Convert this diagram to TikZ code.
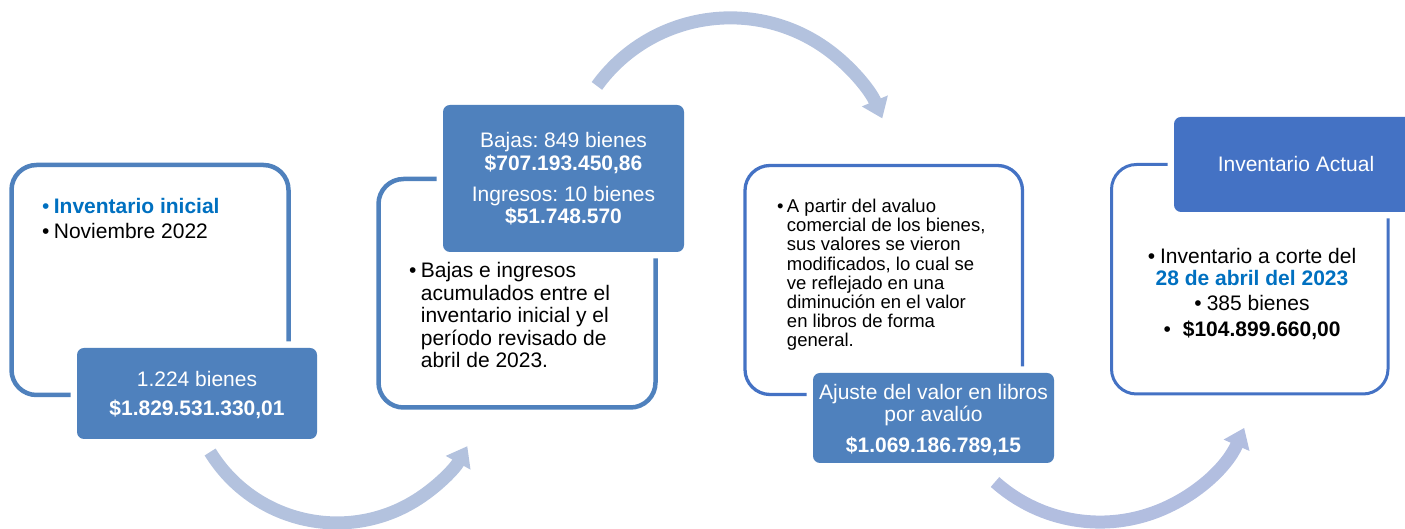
\documentclass[tikz,border=0pt]{standalone}
\usepackage{fontspec}
\setmainfont{Liberation Sans}
\frenchspacing
\usetikzlibrary{arrows.meta}
\definecolor{boxblue}{HTML}{4F81BD}
\definecolor{boxbluetwo}{HTML}{4472C4}
\definecolor{arrowblue}{HTML}{B3C2DE}
\definecolor{arrowbluetwo}{HTML}{B2BEE0}
\definecolor{textblue}{HTML}{0070C0}
\begin{document}
\begin{tikzpicture}[x=1pt,y=1pt,
  outbox/.style={draw=boxblue, line width=4.5pt, rounded corners=25pt, inner sep=0pt, outer sep=0pt, rectangle},
  fillbox/.style={fill=boxblue, rounded corners=7pt, inner sep=0pt, outer sep=0pt, rectangle, preaction={draw=white, line width=13pt}},
  txt/.style={inner sep=0pt, outer sep=0pt, font=\fontsize{21}{22.5}\selectfont},
  wtxt/.style={txt, text=white, anchor=base},
  flow/.style={draw=arrowblue, line width=13pt, -{Triangle[width=27pt,length=19pt]}},
]
\useasboundingbox (0,0) rectangle (1405,529);

% outline boxes
\node[outbox, minimum width=277pt, minimum height=230pt] (o1) at (150,249) {};
\node[outbox, minimum width=277pt, minimum height=228.5pt] (o2) at (517,235.75) {};
\node[outbox, draw=boxbluetwo, line width=3.3pt, minimum width=277.5pt, minimum height=229pt] (o3) at (883.75,249) {};
\node[outbox, draw=boxbluetwo, line width=3pt, minimum width=276.5pt, minimum height=229.5pt] (o4) at (1249.75,249.75) {};

% filled boxes
\node[fillbox, minimum width=240pt, minimum height=91pt] (f1) at (197,135.5) {};
\node[fillbox, minimum width=241pt, minimum height=147pt] (f2) at (563.5,350.5) {};
\node[fillbox, minimum width=241pt, minimum height=90pt] (f3) at (933.5,111) {};
\node[fillbox, fill=boxbluetwo, preaction={draw=white, line width=5pt}, minimum width=244pt, minimum height=95pt] (f4) at (1296,364.5) {};

% texts box 1
\node[txt, anchor=base west, font=\fontsize{21}{25}\selectfont] (t1) at (42,315)
 {\begin{tabular}[t]{@{}l@{\hspace{4.5pt}}l@{}}\color{textblue}• & \color{textblue}\bfseries Inventario inicial\\ • & Noviembre 2022\end{tabular}};
\node[wtxt, font=\fontsize{21}{29}\selectfont] (v1) at (197,142)
 {\begin{tabular}[t]{@{}c@{}}1.224 bienes\\ \bfseries \$1.829.531.330,01\end{tabular}};

% texts box 2
\node[wtxt, font=\fontsize{21}{22}\selectfont] (v2) at (563.5,381)
 {\begin{tabular}[t]{@{}c@{}}Bajas: 849 bienes\\ \bfseries \$707.193.450,86\\[9pt] Ingresos: 10 bienes\\ \bfseries \$51.748.570\end{tabular}};
\node[txt, anchor=base west] (t2) at (409,251.3)
 {\begin{tabular}[t]{@{}l@{\hspace{4.5pt}}l@{}}• & Bajas e ingresos\\ & acumulados entre el\\ & inventario inicial y el\\ & período revisado de\\ & abril de 2023.\end{tabular}};

% texts box 3
\node[txt, anchor=base west, font=\fontsize{18.5}{19.1}\selectfont] (t3) at (777,316.3)
 {\begin{tabular}[t]{@{}l@{\hspace{3.5pt}}l@{}}• & A partir del avaluo\\ & comercial de los bienes,\\ & sus valores se vieron\\ & modificados, lo cual se\\ & ve reflejado en una\\ & diminución en el valor\\ & en libros de forma\\ & general.\end{tabular}};
\node[wtxt, font=\fontsize{21}{20.7}\selectfont] (v3) at (933.5,129)
 {\begin{tabular}[t]{@{}c@{}}Ajuste del valor en libros\\ por avalúo\\[8.6pt] \bfseries \$1.069.186.789,15\end{tabular}};

% texts box 4
\node[wtxt] (v4) at (1296,357.3) {Inventario Actual};
\node[txt, anchor=base, font=\fontsize{21}{21.7}\selectfont] (t4) at (1252,265.7)
 {\begin{tabular}[t]{@{}c@{}}•\hspace{5pt}Inventario a corte del\\ \color{textblue}\bfseries 28 de abril del 2023\\[3.3pt] •\hspace{5pt}385 bienes\\[4.3pt] •\hspace{12pt}\bfseries \$104.899.660,00\end{tabular}};

% arrows
\coordinate (a1s) at (210.1,77.0);
\draw[flow] (a1s) arc[start angle=211.6, end angle=331, radius=149];
\coordinate (a2s) at (596.9,443.1);
\draw[flow] (a2s) arc[start angle=144, end angle=23, radius=165];
\coordinate (a3s) at (995,47);
\draw[flow, draw=arrowbluetwo] (a3s) arc[start angle=228.2, end angle=336.3, radius=157.5];
\end{tikzpicture}
\end{document}
